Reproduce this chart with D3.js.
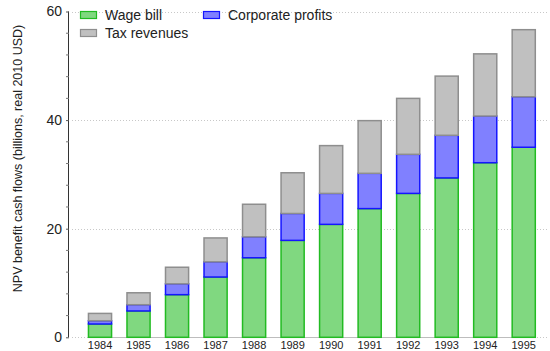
<!DOCTYPE html>
<html>
<head>
<meta charset="utf-8">
<script src="https://cdn.jsdelivr.net/npm/d3@7"></script>
<style>
  html, body { margin: 0; padding: 0; background: #fff; }
  svg { display: block; font-family: "Liberation Sans", Arial, Helvetica, sans-serif; }
</style>
</head>
<body>
<svg id="chart" width="550" height="351"></svg>
<script>
// Years on the x axis
const years = ["1984", "1985", "1986", "1987", "1988", "1989", "1990", "1991", "1992", "1993", "1994", "1995"];
// NPV benefit cash flows, billions of real 2010 USD
const wageBill = [2.45, 4.85, 7.85, 11.1, 14.65, 17.85, 20.8, 23.7, 26.5, 29.35, 32.15, 35.0];
const corporateProfits = [0.6, 1.15, 2.0, 2.8, 3.85, 4.95, 5.7, 6.5, 7.2, 7.85, 8.6, 9.3];
const taxRevenues = [1.35, 2.2, 3.05, 4.4, 6.0, 7.5, 8.8, 9.7, 10.3, 10.9, 11.45, 12.35];
const yTicks = [0, 20, 40, 60];

const seriesInfo = [
  { key: "wage", name: "Wage bill", fill: "#80d880", stroke: "#22bb22" },
  { key: "corp", name: "Corporate profits", fill: "#8080ff", stroke: "#1515ff" },
  { key: "tax", name: "Tax revenues", fill: "#c0c0c0", stroke: "#8e8e8e" }
];

const rows = years.map((y, i) => ({ year: y, wage: wageBill[i], corp: corporateProfits[i], tax: taxRevenues[i] }));
const stacked = d3.stack().keys(seriesInfo.map(s => s.key))(rows);

const svg = d3.select("#chart");

const x = d3.scaleBand().domain(years).range([80.75, 543]).paddingInner(0.4).paddingOuter(0.2);
const y = d3.scaleLinear().domain([0, 60]).range([337.3, 11.5]);
const axisX = 69;

// dotted horizontal grid
svg.append("g").selectAll("line").data(yTicks).join("line")
  .attr("x1", axisX + 3).attr("x2", 548)
  .attr("y1", d => Math.round(y(d)) + 0.5).attr("y2", d => Math.round(y(d)) + 0.5)
  .attr("stroke", "#c8c8c8").attr("stroke-width", 1).attr("stroke-dasharray", "1,2");

// baseline under the bars
svg.append("line")
  .attr("x1", x(years[0])).attr("x2", x(years[years.length - 1]) + x.bandwidth())
  .attr("y1", Math.round(y(0)) + 0.5).attr("y2", Math.round(y(0)) + 0.5)
  .attr("stroke", "#bdbdbd").attr("stroke-width", 1);

// stacked bars
const layers = svg.append("g").selectAll("g").data(stacked).join("g")
  .attr("fill", (d, i) => seriesInfo[i].fill)
  .attr("stroke", (d, i) => seriesInfo[i].stroke)
  .attr("stroke-width", 1.5);

layers.selectAll("rect").data(d => d).join("rect")
  .attr("x", d => x(d.data.year))
  .attr("width", x.bandwidth())
  .attr("y", d => y(d[1]))
  .attr("height", d => y(d[0]) - y(d[1]));

// y axis
const yAxis = d3.axisLeft(y).tickValues(yTicks).tickSize(3).tickPadding(4);
const gy = svg.append("g").attr("transform", `translate(${axisX},0)`).call(yAxis);
gy.select(".domain").attr("stroke", "#333").attr("d", `M-0.5,${y(60)}V${y(0)}`);
gy.selectAll(".tick line").attr("stroke", "#555");
gy.selectAll(".tick text").attr("font-size", 14).attr("fill", "#222")
  .attr("font-family", "Liberation Sans, Arial, sans-serif");

// minor ticks every 4 units
const minor = d3.range(0, 61, 4).filter(v => v % 20 !== 0);
svg.append("g").selectAll("line").data(minor).join("line")
  .attr("x1", axisX - 3).attr("x2", axisX)
  .attr("y1", d => y(d)).attr("y2", d => y(d))
  .attr("stroke", "#777").attr("stroke-width", 1);

// year labels
const xAxis = d3.axisBottom(x).tickSize(0).tickPadding(0);
const gx = svg.append("g").attr("transform", `translate(0,${y(0) + 4})`).call(xAxis);
gx.select(".domain").remove();
gx.selectAll(".tick text").attr("font-size", 11).attr("fill", "#222").attr("dy", "0.71em")
  .attr("font-family", "Liberation Sans, Arial, sans-serif");

// y axis title
svg.append("text")
  .attr("transform", `translate(21.5,158.5) rotate(-90)`)
  .attr("text-anchor", "middle")
  .attr("font-size", 12.5).attr("fill", "#222")
  .text("NPV benefit cash flows (billions, real 2010 USD)");

// legend
const legendItems = [
  { s: seriesInfo[0], x: 80, y: 15 },
  { s: seriesInfo[1], x: 203, y: 15 },
  { s: seriesInfo[2], x: 80, y: 33 }
];
const lg = svg.append("g").selectAll("g").data(legendItems).join("g")
  .attr("transform", d => `translate(${d.x},${d.y})`);
lg.append("rect").attr("x", 0.5).attr("y", -3.5).attr("width", 16).attr("height", 7)
  .attr("fill", d => d.s.fill).attr("stroke", d => d.s.stroke).attr("stroke-width", 1.2);
lg.append("text").attr("x", 25).attr("y", 0).attr("dy", "0.35em")
  .attr("font-size", 14).attr("fill", "#222").text(d => d.s.name);
</script>
</body>
</html>
